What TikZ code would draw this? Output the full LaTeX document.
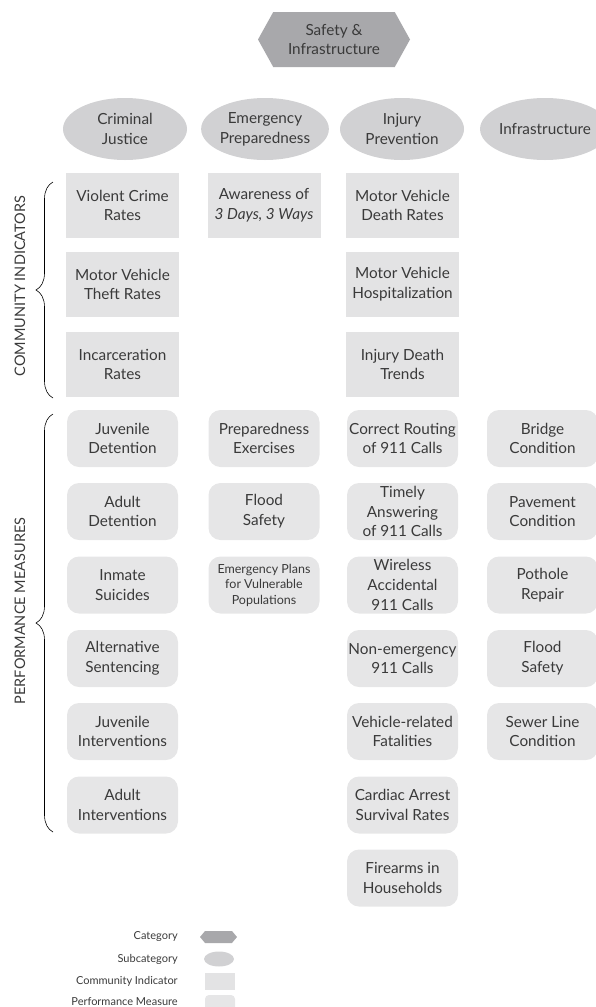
\documentclass[tikz,border=0pt]{standalone}
\usepackage{fontspec}
\setmainfont{Lato}
\usetikzlibrary{shapes.geometric,shapes.symbols,decorations.pathreplacing}

\definecolor{catgray}{HTML}{A8A8AB}
\definecolor{subgray}{HTML}{D1D1D3}
\definecolor{indgray}{HTML}{E3E3E4}
\definecolor{measgray}{HTML}{E6E6E7}
\definecolor{inkgray}{HTML}{3A3A3A}

\begin{document}
\begin{tikzpicture}[
        x=1pt, y=-1pt,
        every node/.style={text=inkgray, align=center, font=\fontsize{15.3}{19.8}\selectfont},
        category/.style={shape=signal, signal to=west and east, signal pointer angle=122,
            fill=catgray, minimum width=152pt, minimum height=55pt, inner sep=0pt},
        subcat/.style={ellipse, fill=subgray, minimum width=124pt, minimum height=62pt, inner sep=0pt},
        indicator/.style={rectangle, fill=indgray, minimum width=113pt, minimum height=65pt, inner sep=0pt},
        measure/.style={rectangle, rounded corners=12pt, fill=measgray, minimum width=111pt, minimum height=57pt, inner sep=0pt},
        side/.style={rotate=90, font=\fontsize{14.5}{16}\selectfont},
        key/.style={anchor=east, inner sep=0pt, font=\fontsize{11}{12}\selectfont},
        every path/.append style={semithick}
    ]
        \useasboundingbox (0,0) rectangle (596,1007);

        \node [category] (safety) at (334,39.5) {Safety \&\\Infrastructure};

        \node [subcat] (justice)   at (125,129) {Criminal\\Justice};
        \node [subcat] (emergency) at (265,129) {Emergency\\Preparedness};
        \node [subcat] (injury)    at (402,129) {Injury\\Prevention};
        \node [subcat] (infra)     at (545,129) {Infrastructure};

        % community indicators
        \node [indicator] (crime)   at (122.5,205.5) {Violent Crime\\Rates};
        \node [indicator] (theft)   at (122.5,284.5) {Motor Vehicle\\Theft Rates};
        \node [indicator] (prison)  at (122.5,364.5) {Incarceration\\Rates};
        \node [indicator] (aware)   at (264,205.5) {Awareness of\\\textit{3 Days, 3 Ways}};
        \node [indicator] (death)   at (402.5,205.5) {Motor Vehicle\\Death Rates};
        \node [indicator] (hospital) at (402.5,284.5) {Motor Vehicle\\Hospitalization};
        \node [indicator] (trends)  at (402.5,364.5) {Injury Death\\Trends};

        % performance measures
        \node [measure] (juvdet)   at (122.5,438.5) {Juvenile\\Detention};
        \node [measure] (adultdet) at (122.5,511.5) {Adult\\Detention};
        \node [measure] (suicide)  at (122.5,585) {Inmate\\Suicides};
        \node [measure] (altsent)  at (122.5,658.5) {Alternative\\Sentencing};
        \node [measure] (juvint)   at (122.5,731.5) {Juvenile\\Interventions};
        \node [measure] (adultint) at (122.5,805) {Adult\\Interventions};

        \node [measure] (exercise) at (264,438.5) {Preparedness\\Exercises};
        \node [measure] (flood)    at (264,511.5) {Flood\\Safety};
        \node [measure, font=\fontsize{12.5}{15.5}\selectfont] (plans) at (264,585)
            {Emergency Plans\\for Vulnerable\\Populations};

        \node [measure] (routing)  at (402.5,438.5) {Correct Routing\\of 911 Calls};
        \node [measure] (timely)   at (402.5,511.5) {Timely\\Answering\\of 911 Calls};
        \node [measure] (wireless) at (402.5,585) {Wireless\\Accidental\\911 Calls};
        \node [measure] (nonemerg) at (402.5,658.5) {Non-emergency\\911 Calls};
        \node [measure] (fatal)    at (402.5,731.5) {Vehicle-related\\Fatalities};
        \node [measure] (cardiac)  at (402.5,805) {Cardiac Arrest\\Survival Rates};
        \node [measure] (firearms) at (402.5,878) {Firearms in\\Households};

        \node [measure] (bridge)   at (542.5,438.5) {Bridge\\Condition};
        \node [measure] (pavement) at (542.5,511.5) {Pavement\\Condition};
        \node [measure] (pothole)  at (542.5,585) {Pothole\\Repair};
        \node [measure] (flood2)   at (542.5,658.5) {Flood\\Safety};
        \node [measure] (sewer)    at (542.5,731.5) {Sewer Line\\Condition};

        % braces on the left
        \coordinate (ci top) at (53,182);
        \coordinate (ci bot) at (53,398);
        \coordinate (pm top) at (53,414);
        \coordinate (pm bot) at (53,832);
        \draw [decorate, decoration={brace, amplitude=17pt}] (ci bot) -- (ci top);
        \draw [decorate, decoration={brace, amplitude=17pt}] (pm bot) -- (pm top);
        \node [side] (cilabel) at (20,286) {COMMUNITY INDICATORS};
        \node [side] (pmlabel) at (20,611) {PERFORMANCE MEASURES};

        % legend
        \node [key] (keycat)  at (178,937)  {Category};
        \node [key] (keysub)  at (178,959)  {Subcategory};
        \node [key] (keyind)  at (178,981)  {Community Indicator};
        \node [key] (keymeas) at (178,1002) {Performance Measure};
        \node [category, minimum width=37pt, minimum height=12pt, signal pointer angle=100] (symcat) at (218.5,937) {};
        \node [subcat, minimum width=30pt, minimum height=15pt] (symsub) at (219,959) {};
        \node [indicator, minimum width=30pt, minimum height=17pt] (symind) at (220,981) {};
        \node [measure, minimum width=30pt, minimum height=17pt, rounded corners=4pt] (symmeas) at (220,1003.5) {};
    \end{tikzpicture}
\end{document}
